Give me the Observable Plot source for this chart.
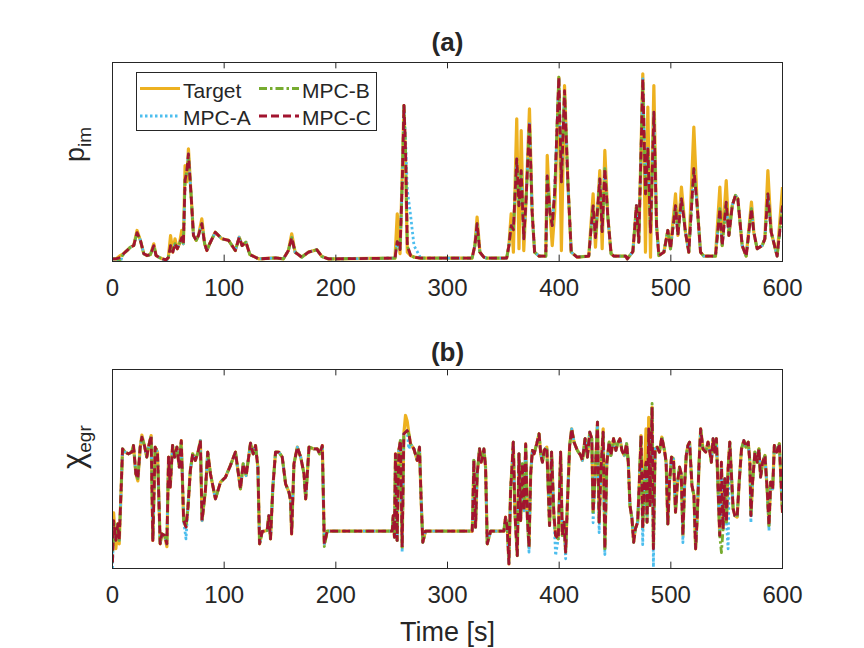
<!DOCTYPE html>
<html><head><meta charset="utf-8">
<script src="https://cdn.jsdelivr.net/npm/d3@7"></script>
<script src="https://cdn.jsdelivr.net/npm/@observablehq/plot@0.6"></script>
<style>
body{margin:0;background:#fff;}
#wrap{position:relative;width:864px;height:648px;font-family:"Liberation Sans",Arial,sans-serif;}
#wrap > svg{position:absolute;left:0;}
</style></head><body><div id="wrap"></div>
<script>
// ---------- panel (a): p_im (normalised to axis height) ----------
const tA = [0,3,7,10,13,16,19,22,25,28,
31,34,37,39,42,45,48,50,52,54,
56,58,60,62,63.5,65,66.5,68,70.5,72.5,
75,77,80,82.5,84.5,87,92,98,104,110,
113.5,116,119.5,123,131,146,153,157.5,160.5,163.5,
169.5,175.5,183,187.5,193.5,253,255,257.5,259.5,261,
262.5,264,267,270,276,322,324.5,326.5,329,332.5,
335,353,355,357,359,362,364,366,368.3,370.4,
373.4,375.8,378,382,388,389.3,391.7,393.8,396,399.7,
402,404.8,407.8,410.8,416,426.5,430.4,432.5,436.4,438.5,
440.9,443.5,446.5,449,459.7,461,466,469.2,471.3,474.9,
477.3,479.4,481.8,484.8,487.2,489.3,493.8,497.3,499.7,504.2,
506.3,509.5,513.1,516.1,520.6,523.6,526.6,529.5,540,543.9,
546,549.6,552,555,557.9,560,563.9,567.5,572.2,574.3,
577.3,581.8,584.2,586.9,589.9,595.2,600];
const targetA = [.013,.013,.030,.040,.055,.072,.080,.156,.106,.039,
.030,.035,.089,.030,.020,.013,.008,.020,.130,.047,
.114,.064,.090,.156,.089,.482,.400,.566,.323,.131,
.106,.131,.214,.089,.055,.089,.147,.114,.106,.055,
.122,.080,.097,.035,.013,.018,.013,.055,.139,.047,
.022,.047,.059,.025,.013,.017,.240,.039,.450,.784,
.480,.047,.030,.022,.017,.017,.080,.223,.047,.022,
.017,.017,.080,.240,.047,.717,.064,.658,.055,.315,
.767,.248,.047,.027,.027,.533,.248,.080,.250,.926,
.055,.884,.399,.047,.022,.027,.340,.072,.457,.064,
.558,.231,.039,.027,.027,.013,.050,.281,.097,.943,
.047,.776,.022,.884,.181,.030,.047,.156,.064,.340,
.131,.374,.147,.047,.675,.281,.047,.027,.027,.374,
.080,.407,.131,.281,.332,.315,.080,.027,.298,.147,
.064,.080,.114,.457,.147,.027,.374];
const mpcA_a = [.013,.013,.000,.040,.055,.072,.080,.145,.106,.039,
.030,.035,.080,.030,.020,.013,-.003,.020,.080,.047,
.090,.064,.090,.120,.089,.410,.450,.541,.323,.131,
.106,.131,.190,.089,.055,.089,.147,.114,.106,.055,
.122,.080,.097,.035,.013,.018,.013,.055,.120,.047,
.022,.047,.059,.025,.013,.017,.100,.060,.400,.784,
.600,.360,.230,.080,.017,.017,.080,.190,.047,.022,
.017,.017,.080,.180,.160,.516,.280,.457,.114,.315,
.700,.248,.047,.027,.027,.430,.248,.180,.350,.920,
.400,.859,.399,.047,.022,.027,.280,.120,.415,.150,
.466,.231,.039,.027,.027,.013,.050,.281,.097,.918,
.340,.580,.147,.750,.181,.030,.047,.156,.064,.281,
.131,.315,.147,.047,.466,.281,.047,.027,.027,.265,
.080,.298,.131,.281,.332,.315,.080,.027,.265,.147,
.064,.080,.114,.340,.147,.027,.281];
const mpcB_a = [.013,.013,.010,.040,.055,.072,.080,.145,.106,.039,
.030,.035,.080,.030,.020,.013,.008,.020,.080,.047,
.090,.064,.090,.120,.089,.410,.450,.535,.323,.131,
.106,.131,.190,.089,.055,.089,.147,.114,.106,.055,
.122,.080,.097,.035,.013,.018,.013,.055,.120,.047,
.022,.047,.059,.025,.013,.017,.100,.060,.400,.784,
.550,.080,.030,.022,.017,.017,.080,.190,.047,.022,
.017,.017,.080,.180,.160,.516,.280,.457,.114,.315,
.690,.248,.047,.027,.027,.430,.248,.180,.350,.926,
.400,.850,.399,.047,.022,.027,.280,.120,.415,.150,
.466,.231,.039,.027,.027,.013,.050,.281,.097,.910,
.340,.566,.147,.740,.181,.030,.047,.156,.064,.281,
.131,.315,.147,.047,.466,.281,.047,.027,.027,.265,
.080,.298,.131,.281,.332,.315,.080,.027,.265,.147,
.064,.080,.114,.340,.147,.027,.281];
const mpcC_a = [.013,.013,.020,.040,.055,.072,.080,.145,.106,.039,
.030,.035,.080,.030,.020,.013,.008,.020,.080,.047,
.090,.064,.090,.120,.089,.410,.450,.541,.323,.131,
.106,.131,.190,.089,.055,.089,.147,.114,.106,.055,
.122,.080,.097,.035,.013,.018,.013,.055,.120,.047,
.022,.047,.059,.025,.013,.017,.100,.060,.400,.784,
.550,.080,.030,.022,.017,.017,.080,.190,.047,.022,
.017,.017,.080,.180,.160,.516,.280,.457,.114,.315,
.700,.248,.047,.027,.027,.430,.248,.180,.350,.926,
.400,.859,.399,.047,.022,.027,.280,.120,.415,.150,
.466,.231,.039,.027,.027,.013,.050,.281,.097,.918,
.340,.566,.147,.750,.181,.030,.047,.156,.064,.281,
.131,.315,.147,.047,.466,.281,.047,.027,.027,.265,
.080,.298,.131,.281,.332,.315,.080,.027,.265,.147,
.064,.080,.114,.340,.147,.027,.281];

// ---------- panel (b): chi_egr (normalised to axis height) ----------
const tB = [0,1,3,4.8,6,7.8,9,11.3,14.3,17.3,
18.8,20.9,22.7,24.8,26.3,28.6,30.7,32.2,34.6,36.1,
38.2,40.3,42.7,44.2,46.6,48.7,50.2,51.7,53.8,55.6,
57.7,59.8,61.6,63.7,65.8,67.6,69.7,71.8,74.2,76.6,
78.7,80.2,83.2,85.3,87.7,92.2,96.7,101.2,105.6,110.1,
114.6,117,119.7,123.6,126,128.1,130.2,131.7,134.1,138.5,
140,141.5,143.6,146,149,152,155,158,159.5,160.4,
162.5,165.5,168.5,171.5,173,176,180.4,183.4,185.5,187.9,
189.7,192.3,250.5,251.4,252.5,253.4,254.9,256.4,257.9,259.4,
260.9,262.4,263.9,265.4,266.9,269.9,272.9,274.9,276.4,277.9,
280.3,322.1,322.6,323.6,325.1,326.6,328.7,330.2,332.6,334.1,
335.6,338.6,350.5,352,353.5,355,356.5,358,358.9,360.4,
362.5,364,365.5,367,368.5,370,371.5,373,374.5,376,
377.5,379.9,382,383.5,385,386.5,388.9,391.4,393.2,395.3,
396.8,399.2,401.3,402.8,404.3,405.8,407.3,409.4,411.2,413.3,
416.3,419.3,420.8,423.2,425.3,427.4,429.2,430.4,432.2,434.3,
435.8,437.3,439.4,440.9,442.7,444.8,446.3,448.7,450.8,452.3,
454.4,456.2,458.3,460.4,461.9,463.4,465.2,466.7,468.2,470.3,
471.8,473.3,474.8,476.3,477.8,478.7,480.2,481.4,483.2,484.4,
485.9,487.7,489.8,491.9,494.3,495.8,497.3,498.8,500.6,502.4,
504.2,505.7,507.8,509.3,510.8,512.3,513.8,515.3,516.8,518.9,
520.7,522.2,523.7,525.2,526.7,528.8,531.2,533.3,534.8,536.3,
537.8,539.3,540.8,542.3,543.8,545.3,546.8,548.3,549.8,551.3,
552.8,554.3,555.8,557.3,559.4,561.2,563.3,565.4,567.2,569.3,
570.8,571.7,573.2,575.3,577.4,578.9,580.4,582.2,584.3,586.4,
587.9,589.4,591.2,592.7,594.8,597.2,598.7,600];
const targetB = [.260,.280,.100,.224,.124,.409,.601,.585,.576,.585,
.618,.476,.440,.610,.670,.618,.560,.610,.668,.141,
.610,.585,.124,.174,.166,.110,.560,.409,.618,.560,
.610,.509,.643,.241,.208,.308,.492,.576,.543,.585,
.643,.241,.392,.585,.476,.350,.434,.459,.518,.585,
.400,.526,.467,.630,.576,.618,.509,.124,.186,.191,
.266,.149,.409,.585,.585,.560,.425,.384,.342,.174,
.526,.610,.560,.476,.350,.610,.601,.601,.576,.618,
.124,.188,.188,.266,.157,.576,.141,.593,.643,.107,
.677,.769,.740,.677,.626,.601,.543,.610,.342,.132,
.188,.188,.275,.543,.208,.476,.601,.534,.601,.509,
.124,.188,.188,.258,.208,.023,.392,.534,.635,.275,
.065,.576,.241,.526,.291,.626,.258,.107,.476,.593,
.576,.626,.677,.576,.534,.593,.610,.216,.585,.266,
.166,.149,.585,.166,.233,.082,.317,.618,.702,.635,
.593,.568,.543,.652,.560,.685,.652,.283,.467,.735,
.233,.484,.702,.099,.534,.635,.568,.652,.593,.627,
.652,.593,.568,.627,.534,.317,.250,.132,.199,.233,
.434,.668,.199,.467,.702,.233,.760,.317,.811,.099,
.601,.610,.585,.660,.593,.534,.224,.434,.560,.551,
.283,.417,.509,.476,.166,.417,.568,.618,.635,.417,
.367,.099,.266,.518,.702,.601,.585,.635,.593,.534,
.652,.585,.652,.400,.166,.534,.199,.451,.233,.501,
.635,.467,.300,.266,.258,.434,.601,.643,.610,.635,
.534,.266,.434,.585,.534,.601,.459,.534,.568,.384,
.216,.434,.400,.618,.585,.627,.434,.280];
const mpcA_b = [.000,.240,.141,.224,.141,.409,.601,.585,.576,.585,
.618,.476,.451,.610,.660,.618,.560,.610,.668,.141,
.610,.585,.124,.174,.166,.124,.560,.409,.618,.560,
.610,.509,.643,.241,.149,.308,.492,.576,.543,.585,
.643,.241,.392,.585,.476,.350,.434,.459,.518,.585,
.400,.526,.467,.630,.576,.618,.509,.124,.186,.191,
.266,.149,.409,.585,.585,.560,.425,.384,.342,.174,
.526,.610,.560,.476,.350,.610,.601,.601,.576,.618,
.124,.188,.188,.266,.157,.576,.141,.593,.643,.082,
.677,.685,.693,.601,.626,.601,.543,.610,.342,.132,
.188,.188,.275,.543,.208,.476,.601,.534,.601,.509,
.124,.188,.188,.258,.208,.023,.392,.534,.635,.275,
.065,.576,.241,.526,.291,.626,.258,.082,.476,.593,
.576,.626,.677,.576,.534,.593,.610,.216,.585,.266,
.065,.149,.585,.166,.233,.049,.317,.618,.702,.635,
.593,.568,.543,.652,.560,.685,.652,.230,.467,.735,
.180,.484,.685,.070,.534,.635,.568,.652,.593,.627,
.652,.593,.568,.627,.534,.317,.250,.132,.199,.233,
.434,.668,.120,.467,.534,.233,.702,.317,.811,.007,
.601,.610,.585,.660,.593,.534,.224,.434,.560,.551,
.283,.417,.509,.476,.130,.417,.568,.618,.635,.417,
.367,.099,.266,.518,.702,.601,.585,.635,.593,.534,
.652,.585,.652,.400,.166,.534,.199,.451,.233,.099,
.635,.467,.300,.266,.258,.434,.601,.643,.610,.635,
.534,.230,.434,.585,.534,.601,.459,.534,.568,.384,
.190,.434,.400,.618,.585,.627,.434,.280];
const mpcB_b = [.030,.240,.141,.224,.141,.409,.601,.585,.576,.585,
.618,.476,.451,.610,.660,.618,.560,.610,.668,.141,
.610,.585,.124,.174,.166,.124,.560,.409,.618,.560,
.610,.509,.643,.241,.208,.308,.492,.576,.543,.585,
.643,.241,.392,.585,.476,.350,.434,.459,.518,.585,
.400,.526,.467,.630,.576,.618,.509,.124,.186,.191,
.266,.149,.409,.585,.585,.560,.425,.384,.342,.174,
.526,.610,.560,.476,.350,.610,.601,.601,.576,.618,
.110,.188,.188,.266,.157,.576,.141,.593,.643,.107,
.677,.685,.693,.677,.626,.601,.543,.610,.342,.132,
.188,.188,.275,.543,.208,.476,.601,.534,.601,.509,
.124,.188,.188,.258,.208,.060,.392,.534,.635,.275,
.065,.576,.241,.526,.291,.626,.258,.107,.476,.593,
.576,.626,.677,.576,.534,.593,.610,.216,.585,.266,
.166,.149,.585,.166,.233,.082,.317,.618,.702,.635,
.593,.568,.543,.652,.560,.685,.652,.283,.467,.735,
.233,.484,.685,.099,.534,.635,.568,.652,.593,.627,
.652,.593,.568,.627,.534,.317,.250,.132,.199,.233,
.434,.668,.199,.467,.534,.233,.702,.317,.830,.099,
.601,.610,.585,.660,.593,.534,.224,.434,.560,.551,
.283,.417,.509,.476,.166,.417,.568,.618,.635,.417,
.367,.099,.266,.518,.702,.601,.585,.635,.593,.534,
.652,.585,.652,.400,.166,.080,.199,.451,.233,.501,
.635,.467,.300,.266,.258,.434,.601,.643,.610,.635,
.534,.266,.434,.585,.534,.601,.459,.534,.568,.384,
.216,.434,.400,.618,.585,.627,.434,.280];
const mpcC_b = [.030,.240,.141,.224,.141,.409,.601,.585,.576,.585,
.618,.476,.451,.610,.660,.618,.560,.610,.668,.141,
.610,.585,.124,.174,.166,.124,.560,.409,.618,.560,
.610,.509,.643,.241,.208,.308,.492,.576,.543,.585,
.643,.241,.392,.585,.476,.350,.434,.459,.518,.585,
.400,.526,.467,.630,.576,.618,.509,.124,.186,.191,
.266,.149,.409,.585,.585,.560,.425,.384,.342,.174,
.526,.610,.560,.476,.350,.610,.601,.601,.576,.618,
.124,.188,.188,.266,.157,.576,.141,.593,.643,.107,
.677,.685,.693,.677,.626,.601,.543,.610,.342,.132,
.188,.188,.275,.543,.208,.476,.601,.534,.601,.509,
.124,.188,.188,.258,.208,.023,.392,.534,.635,.275,
.065,.576,.241,.526,.291,.626,.258,.107,.476,.593,
.576,.626,.677,.576,.534,.593,.610,.216,.585,.266,
.166,.149,.585,.166,.233,.082,.317,.618,.702,.635,
.593,.568,.543,.652,.560,.685,.652,.283,.467,.735,
.233,.484,.685,.099,.534,.635,.568,.652,.593,.627,
.652,.593,.568,.627,.534,.317,.250,.132,.199,.233,
.434,.668,.199,.467,.534,.233,.702,.317,.811,.099,
.601,.610,.585,.660,.593,.534,.224,.434,.560,.551,
.283,.417,.509,.476,.166,.417,.568,.618,.635,.417,
.367,.099,.266,.518,.702,.601,.585,.635,.593,.534,
.652,.585,.652,.400,.166,.534,.199,.451,.233,.501,
.635,.467,.300,.266,.258,.434,.601,.643,.610,.635,
.534,.266,.434,.585,.534,.601,.459,.534,.568,.384,
.216,.434,.400,.618,.585,.627,.434,.280];

const xTicks = [0,100,200,300,400,500,600];
const seriesNames = ["Target","MPC-A","MPC-B","MPC-C"];
const seriesColors = ["#EDB120","#4DBEEE","#77AC30","#A2142F"];
const seriesDash = [null,"2.5,2.5","8,3,2.5,3","8,4"];
const seriesWidth = [3.2,2.8,2.8,2.8];

const ink = "#262626";
const font = '"Liberation Sans", Arial, Helvetica, sans-serif';
const wrap = document.getElementById("wrap");

function makePanel(time, seriesValues, opt) {
  const lineMarks = seriesValues.map((vals, k) => {
    const data = time.map((t, i) => ({t, v: vals[i]}));
    return Plot.line(data, {x: "t", y: "v", stroke: seriesColors[k], strokeWidth: seriesWidth[k],
      strokeDasharray: seriesDash[k] || undefined, strokeLinecap: "butt", strokeLinejoin: "round", clip: true});
  });
  const svg = Plot.plot({
    width: 864, height: 324,
    marginLeft: 112, marginRight: 82, marginTop: opt.mt, marginBottom: opt.mb,
    style: {fontFamily: font, color: ink, background: "transparent", overflow: "visible"},
    x: {domain: [0, 600], axis: null},
    y: {domain: [0, 1], axis: null},
    marks: [
      ...lineMarks,
      Plot.frame({stroke: ink, strokeWidth: 1}),
      Plot.ruleX(xTicks, {x: d => d, y1: 0, y2: 0.032, stroke: ink, strokeWidth: 1}),
      Plot.ruleX(xTicks, {x: d => d, y1: 1, y2: 0.968, stroke: ink, strokeWidth: 1}),
      Plot.axisX(xTicks, {tickSize: 0, tickPadding: 17, fontSize: 24, label: null, fill: ink}),
      Plot.text([opt.title], {frameAnchor: "top", dy: opt.titleDy, lineAnchor: "middle", fontSize: 26, fontWeight: "bold", fill: ink}),
      Plot.text([opt.ylabel], {frameAnchor: "left", dx: -37, rotate: -90, lineAnchor: "middle", fontSize: 27, fill: ink}),
      ...(opt.xlabel ? [Plot.text([opt.xlabel], {frameAnchor: "bottom", dy: 64, lineAnchor: "middle", fontSize: 27, fill: ink})] : [])
    ]
  });
  svg.style.top = opt.top + "px";
  // subscript for the y label
  svg.querySelectorAll("text").forEach(el => {
    if (el.textContent === opt.ylabel) {
      el.textContent = "";
      const ts1 = document.createElementNS("http://www.w3.org/2000/svg", "tspan");
      ts1.textContent = opt.ylabelMain;
      ts1.setAttribute("font-size", opt.mainSize);
      const ts2 = document.createElementNS("http://www.w3.org/2000/svg", "tspan");
      ts2.textContent = opt.ylabelSub;
      ts2.setAttribute("font-size", "19");
      ts2.setAttribute("dy", "7");
      el.appendChild(ts1); el.appendChild(ts2);
    }
  });
  wrap.appendChild(svg);
}

makePanel(tA, [targetA, mpcA_a, mpcB_a, mpcC_a],
  {top: 0, mt: 62, mb: 63, title: "(a)", titleDy: -20, ylabel: "p_im", ylabelMain: "p", ylabelSub: "im", mainSize: "27"});
makePanel(tB, [targetB, mpcA_b, mpcB_b, mpcC_b],
  {top: 324, mt: 45, mb: 80, title: "(b)", titleDy: -17, ylabel: "χ_egr", ylabelMain: "χ", ylabelSub: "egr", mainSize: "31", xlabel: "Time [s]"});

// legend (inside panel a, upper left)
const leg = d3.create("svg").attr("width", 241).attr("height", 60)
  .style("position", "absolute").style("left", "136px").style("top", "72px");
leg.append("rect").attr("x", 0.5).attr("y", 0.5).attr("width", 240).attr("height", 58)
  .attr("fill", "#fff").attr("stroke", ink).attr("stroke-width", 1);
const legPos = [[4, 16.5], [4, 44], [123, 16.5], [123, 44]];
seriesNames.forEach((name, k) => {
  const [lx, ly] = legPos[k];
  leg.append("line").attr("x1", lx).attr("x2", lx + 40).attr("y1", ly).attr("y2", ly)
    .attr("stroke", seriesColors[k]).attr("stroke-width", seriesWidth[k])
    .attr("stroke-dasharray", seriesDash[k]);
  leg.append("text").attr("x", lx + 43).attr("y", ly + 9).attr("font-size", 21)
    .attr("font-family", font).attr("fill", ink).text(name);
});
wrap.appendChild(leg.node());
</script>
</body></html>
